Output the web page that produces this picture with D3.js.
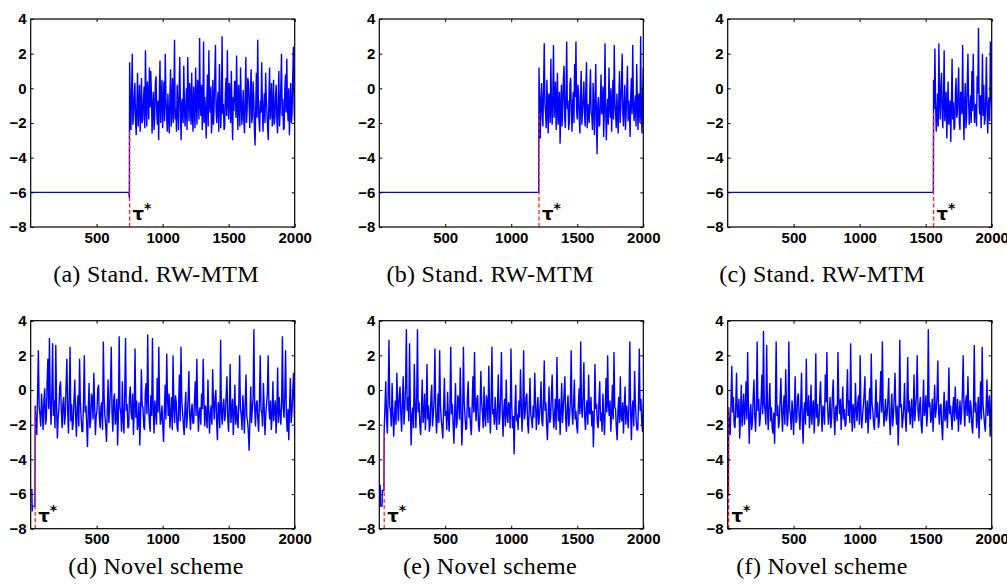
<!DOCTYPE html>
<html>
<head>
<meta charset="utf-8">
<script src="https://cdn.jsdelivr.net/npm/d3@7"></script>
<style>
  body { margin: 0; background: #fff; }
  svg { display: block; }
</style>
</head>
<body>
<script>
// ---- data ----
var captions = ["(a) Stand. RW-MTM", "(b) Stand. RW-MTM", "(c) Stand. RW-MTM",
                "(d) Novel scheme", "(e) Novel scheme", "(f) Novel scheme"];
var xTicks = [500, 1000, 1500, 2000];
var yTicks = [-8, -6, -4, -2, 0, 2, 4];

// iteration where the chain leaves the start region, and top of the red marker
var taus = [750, 1210, 1560, 35, 38, 8];
var tauTops = [-2.4, -1.45, -1.45, -0.9, -2.4, -1.0];
var steps = [5, 5, 5, 6, 6, 6];

// chain before tau: [iteration, value]
var preA = [[1, -6], [745, -6], [748, -6.35]];
var preB = [[1, -6], [1208, -6]];
var preC = [[1, -6], [1558, -6]];
var preD = [[1, -5.75], [10, -5.75], [12, -7.0], [14, -6.7], [30, -6.7], [33, -6.6]];
var preE = [[1, -5.5], [8, -5.5], [10, -6.7], [22, -6.7], [24, -5.8], [36, -5.8]];
var preF = [[1, -6], [6, -6]];

// chain from tau on, one value every `step` iterations
var valsA = [1.5, -0.8, -2.4, -0.2, 2.0, -2.1, -1.6, -0.5, 0.3, -1.9, -2.7, -1.0, 0.9, -2.2, -1.2, 0.2, -2.5, -1.4, 0.6, -2.0,
  -1.8, -0.6, 0.1, -2.3, 2.2, -0.9, -2.2, 0.4, -0.4, -1.8, 1.2, -1.1, 1.0, -0.3, -2.6, -1.2, -0.2, -2.4, -1.7, 0.3,
  0.7, -1.3, -2.1, -0.7, -3.0, -0.4, 1.6, -2.0, -0.8, 0.5, -2.3, -1.0, 0.4, -1.9, 2.0, -0.6, -1.5, -2.5, -0.3, -1.6,
  -2.6, -0.5, 1.1, -2.2, -1.0, 0.6, -2.0, -0.9, 2.8, -1.8, -1.2, -2.5, 0.2, -1.1, -2.4, 0.0, 1.8, -1.4, -3.0, -0.8,
  -0.6, -2.0, 1.3, -0.9, -2.2, -1.3, 0.0, -2.4, 1.8, -0.4, -1.9, 0.3, -0.7, -2.1, 0.9, -1.5, -2.5, 0.1, -1.1, -2.3,
  1.2, -0.7, -2.1, 0.5, -0.3, -1.8, 2.9, -0.9, -1.6, 0.2, -2.4, -1.2, 2.7, -2.0, -0.5, -1.4, -2.9, -0.6, 0.8, -2.2,
  2.2, -1.0, -1.4, 0.1, -2.6, -1.7, 0.5, -2.1, -1.0, 0.7, 2.5, -1.3, -2.0, -0.8, -0.2, -2.5, 1.4, -0.6, -2.3, -1.1,
  3.0, -1.5, -0.9, -2.4, -2.2, -0.3, 0.6, -1.6, 2.2, -0.7, -1.8, 0.3, -0.4, -2.0, 1.0, -1.2, -3.0, -0.5, -1.3, 0.4,
  0.4, -1.7, 1.9, -1.1, -2.4, 0.2, -0.8, -2.2, 1.2, -0.6, -2.1, -1.3, -0.1, -1.9, -2.6, -0.4, 1.8, -2.0, -1.2, 0.6,
  0.3, -1.0, -2.3, -0.2, 1.1, -2.0, -1.6, 0.4, -0.5, -2.4, -3.3, -1.1, 0.9, -1.7, 2.8, -0.8, -1.9, -2.5, -0.7, -1.4,
  1.5, -0.9, -2.5, -1.2, -0.3, -2.0, 0.9, -0.6, -1.4, -2.3, -3.0, -0.4, 1.2, -1.8, -1.0, 0.3, -2.2, -1.5, 0.5, -2.1,
  -1.7, -0.5, 0.2, -1.9, -2.6, -0.8, 1.0, -2.2, -1.3, 0.1, 2.0, -1.6, -0.6, -2.4, -2.3, -0.2, 0.8, -1.4, 1.7, -1.0,
  -1.9, 0.0, -2.7, -1.1, 0.3, -2.0, -1.4, 0.6, 2.4, -0.9, -2.2];
var valsB = [1.2, -1.0, -2.9, -0.6, 0.3, -1.6, -2.2, 0.1, 2.6, -0.9, -1.4, -2.3, 0.5, -1.2, -2.6, -0.3, -0.6, -2.0, 1.7, -1.1,
  -2.1, -0.4, 2.5, -1.7, -0.8, 0.4, -2.4, -1.0, 0.9, -2.1, -1.5, -0.2, -3.2, -1.3, 0.2, -2.2, -1.1, 0.6, 1.3, -1.8,
  -2.3, -0.1, 2.7, -1.2, -0.7, -2.4, -1.9, 0.3, 0.6, -1.4, -2.5, -0.8, -0.2, -2.0, 1.4, -0.5, 2.7, -1.3, -1.8, 0.2,
  -0.4, -1.7, -2.6, -0.3, 1.0, -2.1, -1.3, -0.6, 0.4, -1.5, -2.2, 0.0, 1.5, -2.3, -0.9, -1.6, -2.0, -0.2, 1.1, -1.4,
  -1.6, -2.4, 0.3, -1.0, -2.7, -0.4, 1.4, -1.9, -3.8, -1.1, -0.5, -2.2, -2.1, -0.7, 0.8, -1.5, -1.2, 0.1, -2.8, -1.3,
  2.6, -1.0, -3.0, -1.4, -0.6, -2.1, 1.2, -0.9, -1.7, 0.0, -2.5, -1.2, 0.5, -1.8, 2.5, -0.8, -1.4, -2.3, -0.3, -1.6,
  -2.6, -0.5, 1.0, -2.0, -1.0, 0.3, 2.0, -1.4, -2.2, -0.9, 0.2, -2.4, -1.5, -0.1, 1.3, -1.9, -0.7, -1.2, -2.8, -0.4,
  0.6, -1.5, 2.5, -0.7, -1.9, -1.1, -0.4, -2.2, 1.4, -0.8, -2.4, -0.3, -1.0, -2.0, 3.0, -1.3, -2.6, -0.5, 1.2];
var valsC = [0.5, -1.2, 2.3, -0.8, -2.5, -1.6, -0.3, -2.2, 2.6, -0.5, -1.8, 0.1, 0.9, -1.4, -2.3, -0.6, 2.2, -1.9, -1.0, -0.2,
  -2.9, -1.3, 0.4, -2.1, -1.6, -0.7, -3.1, -1.0, 1.7, -1.8, -0.8, -2.4, -2.2, -0.4, 0.6, -1.7, -1.4, -0.1, 1.2, -2.0,
  -2.4, -0.2, -0.6, -1.5, 2.5, -1.1, -3.0, -0.9, 0.3, -2.3, -1.7, 0.2, 2.0, -0.7, -2.1, -1.2, -0.4, -2.0, 1.0, -1.3,
  2.0, -0.6, -2.0, -1.1, -0.9, -2.2, 0.7, -0.3, 3.5, -1.0, -1.5, -0.4, -2.3, -0.8, 2.0, -1.6, 0.2, -2.1, -1.8, -0.5,
  1.8, -1.3, -2.6, -0.9, -0.5, -1.9, 2.7, -0.4, -1.2];
var valsD = [-0.9, -1.8, -2.6, -0.3, 2.3, -1.0, -1.4, -2.1, -0.2, -1.2, -2.3, -0.6, 0.1, -2.0, -1.7, 0.4, 1.8, -1.1, 3.0, -0.7,
  -2.0, -0.3, 2.7, -1.5, -0.6, -2.2, 2.6, -0.9, -2.8, -1.6, -1.0, 0.2, 0.5, -1.3, -2.2, -0.8, -0.4, -2.0, -1.5, 0.3,
  1.8, -1.2, -2.5, -0.4, 2.5, -1.8, -0.8, -2.3, -1.9, -0.5, 0.6, -1.4, -2.7, -1.0, -0.3, -2.1, 1.8, -0.7, -1.6, -2.4,
  -2.4, -0.6, 2.0, -1.3, -0.9, -2.0, -3.3, -1.1, 0.4, -2.2, -1.8, -0.2, -0.5, -1.7, 1.0, -0.8, -2.6, -1.5, -1.2, 0.1,
  0.3, -1.6, -2.2, -1.0, -0.7, -2.3, 2.8, -0.4, -1.5, -2.1, -3.0, -1.2, 0.6, -1.9, -1.1, 0.2, 2.5, -1.4, -2.4, -0.6,
  -0.2, -2.0, -1.6, -0.5, -3.2, -1.4, 3.1, -1.0, -1.3, -2.4, 0.5, -1.7, -2.5, -0.3, 3.0, -1.2, -0.8, -2.2, -2.1, -0.4,
  0.2, -1.3, -1.7, -0.2, -2.6, -1.1, 2.4, -1.6, -0.6, -2.3, -1.9, -0.7, -3.2, -1.5, 1.2, -0.9, -1.0, -2.1, -2.3, -0.1,
  0.4, -1.4, 3.2, -0.8, -1.8, -2.4, -0.3, -1.5, 3.0, -1.1, -2.5, -0.6, -1.2, -2.0, 0.7, -1.3, 2.5, -0.9, -2.0, -1.6,
  -0.9, -2.1, -3.0, -1.2, 0.3, -1.7, 2.1, -0.5, -1.5, -0.2, -2.2, -1.4, -0.4, -2.3, 2.0, -1.0, -1.9, -0.3, -0.7, -2.1,
  -2.4, -1.0, 0.9, -1.8, 2.5, -0.6, -1.3, -2.0, -2.6, -1.1, -0.1, -2.2, -1.6, -0.4, 1.1, -1.5, -2.3, -1.2, -0.8, -1.9,
  -1.9, -0.7, 0.5, -1.5, 1.8, -1.0, -2.4, -1.3, -1.0, -2.0, -0.2, -1.1, 1.8, -0.6, -2.1, -0.9, -1.4, -2.2, 0.6, -1.2,
  -2.5, -1.4, -0.9, -2.0, 1.2, -0.8, -1.7, -0.4, 0.0, -1.9, -2.9, -0.7, -1.1, -2.2, 2.9, -1.3, -2.0, -0.9, -0.5, -1.8,
  -1.5, -0.3, 0.8, -1.6, -2.4, -1.0, 1.5, -1.9, -1.2, -0.5, -2.6, -1.3, 0.3, -2.0, -0.9, -1.7, -2.2, -0.6, 2.0, -1.1,
  -1.4, -2.3, -0.3, -1.2, -2.5, -0.7, 0.9, -1.5, -1.8, -2.4, -3.5, -1.6, 0.2, -1.9, -1.1, -0.4, 3.5, -1.0, -2.1, -0.8,
  -0.6, -1.7, -2.4, -0.5, 2.0, -1.2, -1.3, -2.1, 0.4, -1.0, -2.6, -1.4, -0.8, -0.2, 2.0, -1.1, -1.7, -0.6, -2.3, -1.5,
  0.5, -1.8, -1.1, -0.6, -2.5, -1.2, 1.3, -1.9, -0.4, -1.3, -2.0, -0.7, 3.1, -1.0, -1.6, -0.3, 2.3, -1.5, -2.4, -1.1,
  -2.9, -1.0, 0.7, -1.9, -1.3, -0.2, 1.0, -1.4, -2.7];
var valsE = [-2.3, -1.0, 0.5, -1.6, -2.5, -0.4, 2.9, -0.9, -1.2, -2.1, 0.4, -1.3, -2.7, -1.5, -0.6, -2.0, 1.0, -0.8, -1.8, -0.3,
  0.2, -1.4, -2.4, -0.6, 0.8, -2.0, -1.1, 0.3, 3.5, -1.2, -0.4, -1.8, 2.7, -0.9, -3.2, -1.5, -1.0, -2.2, 1.5, -0.7,
  -2.2, -0.5, 3.5, -1.3, -0.7, -2.0, -2.6, -1.1, 0.6, -1.9, -1.5, -0.2, -2.3, -1.2, 1.5, -1.7, -0.9, -2.4, -2.0, -0.4,
  0.3, -2.1, -1.4, -0.6, 2.4, -1.1, -2.5, -1.6, -0.2, -1.9, 2.3, -0.8, -1.7, -2.2, -2.8, -1.0, 0.7, -1.5, -1.2, -2.3,
  -0.1, -1.6, -2.4, -0.9, 2.5, -1.4, -0.8, -2.0, -3.1, -1.3, 0.4, -2.2, -1.9, -0.3, -0.6, -1.7, 1.3, -1.1, -3.2, -1.8,
  2.5, -0.7, -1.5, -2.3, -2.2, -0.4, 0.5, -1.6, -1.0, -2.1, -2.6, -0.9, 0.8, -1.3, 2.2, -1.0, -1.8, -0.5, -0.3, -2.0,
  -2.4, -1.2, 1.1, -0.7, -1.3, -2.2, 0.2, -1.5, -2.1, -0.3, -0.8, -1.9, 1.4, -1.0, -2.5, -0.6, 2.5, -1.4, -1.1, -2.0,
  -0.4, -1.5, -2.3, -0.8, 0.9, -2.0, -1.6, -0.2, 2.2, -1.3, -2.7, -1.1, -0.5, -2.1, 0.6, -1.4, -1.9, -0.7, -1.0, -2.2,
  2.4, -0.9, -2.2, -1.5, -3.7, -1.2, 0.3, -1.8, -1.4, -2.3, -0.6, -1.6, 1.2, -0.8, -2.4, -1.0, 2.3, -1.7, -1.3, -0.4,
  -0.2, -1.9, -2.5, -1.1, 0.7, -1.4, -1.7, -2.2, -0.9, -1.6, 1.0, -0.6, -2.3, -1.3, -0.4, -2.0, -1.5, -0.8, 0.5, -1.8,
  -2.1, -0.6, 1.7, -1.2, -0.7, -2.0, -2.9, -1.4, 0.2, -1.9, -1.6, -0.3, 0.9, -1.1, -2.2, -1.5, -0.5, -2.3, 1.9, -0.9,
  -1.8, -0.5, -2.6, -1.3, 0.4, -1.9, -1.1, -0.2, 0.8, -1.6, -2.4, -1.0, -0.3, -2.1, -1.5, -0.6, 2.3, -1.2, -2.0, -0.8,
  0.6, -1.7, -1.2, -2.1, -2.5, -0.9, 0.1, -1.4, 2.8, -1.0, -1.6, -0.3, 1.6, -1.5, -2.3, -1.1, -0.6, -2.0, 0.9, -1.3,
  -1.4, -0.4, -2.1, -1.2, -3.3, -1.6, 1.5, -1.1, -0.8, -1.9, -2.2, -0.7, 0.5, -1.8, -1.3, -2.4, -0.2, -1.5, -2.6, -1.0,
  0.7, -1.3, 2.0, -0.9, -1.5, -0.6, -2.4, -1.4, 0.3, -1.7, 2.2, -1.0, -1.1, -2.2, -2.9, -1.2, -0.4, -1.9, 0.8, -1.6,
  -1.8, -0.7, -2.5, -1.1, 0.2, -2.0, -0.9, -1.4, -2.2, -0.5, 2.8, -1.3, -2.9, -1.0, -0.6, -2.1, 1.1, -0.8, -1.7, -2.3,
  -2.3, -0.6, 2.4, -1.2, -0.5, -1.8, -2.4, -0.9, 0.3];
var valsF = [-1.0, -1.9, -2.6, -0.7, 1.4, -1.3, -0.4, -2.0, -2.2, -0.9, 1.0, -1.6, -1.5, -0.5, -2.8, -1.4, 0.3, -2.1, -1.2, -0.2,
  -2.0, -1.1, 0.5, -1.7, 2.2, -0.9, -3.1, -1.4, -0.8, -2.3, -1.9, -0.4, 0.6, -1.5, -2.4, -1.0, 2.8, -1.2, -0.5, -2.1,
  -1.6, -0.6, 0.9, -1.4, 3.4, -0.8, -1.2, -2.0, 2.6, -1.1, -2.3, -0.7, 0.4, -1.8, -1.0, -2.2, -2.5, -1.3, -3.1, -0.9,
  2.8, -1.5, -0.9, -2.2, -1.8, -0.5, 0.7, -1.3, -2.4, -1.0, -0.3, -2.0, 1.2, -0.8, -2.1, -1.6, 2.8, -1.1, -1.4, -2.3,
  -0.6, -1.3, -2.6, -1.0, 0.8, -1.9, -1.7, -0.4, -0.2, -1.5, -2.3, -0.9, 1.0, -1.8, -3.1, -1.2, -0.7, -2.0, 1.8, -1.1,
  -1.5, -0.3, -2.2, -1.4, 0.3, -2.0, -1.0, -0.6, -2.5, -1.2, 2.1, -1.6, -0.8, -2.1, -1.9, -0.4, 0.5, -1.3, -2.4, -0.9,
  -1.2, -2.0, 0.9, -0.7, 2.2, -1.1, -2.0, -1.4, -0.4, -2.2, -1.6, -0.3, 0.6, -1.5, -2.6, -1.0, -0.9, -1.8, 2.2, -0.6,
  -1.4, -0.5, -2.3, -1.2, 0.2, -1.7, -1.1, -2.1, -2.0, -0.4, 1.2, -1.5, -0.6, -1.9, 2.7, -1.0, -2.4, -0.8, -1.3, -2.2,
  0.4, -1.1, -1.8, -0.7, -0.3, -2.0, 2.0, -1.3, -2.2, -1.5, -0.9, -0.2, 0.8, -1.9, -1.6, -0.6, -2.5, -1.2, 0.1, -1.7,
  2.1, -0.8, -1.2, -2.0, -2.3, -1.0, 0.6, -1.6, -0.7, -2.2, -1.9, -0.4, 1.1, -1.3, 2.8, -0.9, -2.1, -1.4, -0.5, -1.8,
  -1.4, -0.6, 0.7, -1.7, -2.6, -1.1, -0.2, -2.1, -1.5, -0.4, 1.0, -1.2, -2.0, -0.9, -3.2, -1.5, 2.9, -1.0, -0.8, -2.2,
  -1.7, -1.0, 0.4, -1.6, -2.4, -0.8, 1.9, -1.3, -0.6, -2.0, -1.3, -0.5, -2.2, -1.4, 0.9, -1.8, -1.0, -0.3, 2.0, -1.2,
  -1.8, -0.9, -0.4, -2.0, -2.5, -1.1, 0.6, -1.5, -1.2, -0.3, -2.1, -1.4, 3.5, -1.0, -0.7, -1.9, -1.6, -0.5, -2.4, -1.2,
  0.3, -1.6, -1.1, -0.4, 1.7, -1.3, -2.0, -0.9, -0.8, -2.1, -2.9, -1.2, -0.1, -1.8, -1.5, -0.6, -2.2, -1.0, 1.3, -1.4,
  -0.9, -1.6, -2.3, -1.0, -0.4, -1.8, 0.2, -1.2, -1.7, -0.5, -2.4, -1.4, -0.6, -2.0, -1.3, -0.2, 2.0, -1.1, -2.1, -0.7,
  -0.3, -1.5, 0.8, -1.2, -1.9, -0.6, -1.0, -2.1, -2.5, -0.9, 2.6, -1.3, -0.7, -2.2, -1.6, -0.4, -2.8, -1.1, 0.5, -1.7,
  2.5, -0.8, -1.4, -2.0, -2.4, -0.9, 0.6, -1.5, -1.1, -0.3, -2.7, -1.2, 0.5];

var pres = [preA, preB, preC, preD, preE, preF];
var vals = [valsA, valsB, valsC, valsD, valsE, valsF];

// ---- layout ----
var W = 1007, H = 588;
var pw = 264, ph = 208;
var lefts = [30.7, 379.3, 727.7];
var tops = [19, 320.7];
var capX = [156, 490, 822];
var capY = [282, 574];

var svg = d3.select("body").append("svg")
  .attr("width", W)
  .attr("height", H);

var x = d3.scaleLinear().domain([1, 2000]).range([0, pw]);
var y = d3.scaleLinear().domain([-8, 4]).range([ph, 0]);

var line = d3.line()
  .x(function(d) { return x(d[0]); })
  .y(function(d) { return y(d[1]); });

svg.append("defs").append("clipPath")
  .attr("id", "plotclip")
  .append("rect")
  .attr("width", pw)
  .attr("height", ph);

var fontStyle = function(sel) {
  sel.selectAll("text")
    .attr("font-family", "Liberation Sans, Arial, sans-serif")
    .attr("font-weight", "bold")
    .attr("font-size", 15)
    .attr("fill", "#000");
  sel.selectAll("line").attr("stroke", "#000");
  sel.select(".domain").remove();
};

for (var k = 0; k < 6; k++) {
  var col = k % 3, row = Math.floor(k / 3);
  var g = svg.append("g")
    .attr("transform", "translate(" + lefts[col] + "," + tops[row] + ")");

  var tau = taus[k], step = steps[k];
  var pts = pres[k].concat(vals[k].map(function(v, i) { return [tau + i * step, v]; }));

  var plot = g.append("g").attr("clip-path", "url(#plotclip)");
  plot.append("path")
    .datum(pts)
    .attr("d", line)
    .attr("fill", "none")
    .attr("stroke", "#0000ff")
    .attr("stroke-width", 1.4);

  plot.append("line")
    .attr("x1", x(tau)).attr("x2", x(tau))
    .attr("y1", y(-8)).attr("y2", y(tauTops[k]))
    .attr("stroke", "#ff2020")
    .attr("stroke-width", 1.3)
    .attr("stroke-dasharray", "4,2.5");

  // axes, ticks pointing inward on all four sides
  g.append("g")
    .attr("transform", "translate(0," + ph + ")")
    .call(d3.axisBottom(x).tickValues(xTicks).tickSize(-3).tickPadding(5).tickFormat(d3.format("d")))
    .call(fontStyle);
  g.append("g")
    .call(d3.axisTop(x).tickValues(xTicks).tickSize(-3).tickFormat(""))
    .call(fontStyle);
  g.append("g")
    .call(d3.axisLeft(y).tickValues(yTicks).tickSize(-3).tickPadding(4))
    .call(fontStyle);
  g.append("g")
    .attr("transform", "translate(" + pw + ",0)")
    .call(d3.axisRight(y).tickValues(yTicks).tickSize(-3).tickFormat(""))
    .call(fontStyle);

  g.append("rect")
    .attr("width", pw)
    .attr("height", ph)
    .attr("fill", "none")
    .attr("stroke", "#000")
    .attr("stroke-width", 1.2);

  // tau* marker label
  var lab = g.append("text")
    .attr("x", x(tau) + 3)
    .attr("y", y(-7.6))
    .attr("font-family", "DejaVu Sans, sans-serif")
    .attr("font-weight", "bold")
    .attr("font-size", 18)
    .attr("fill", "#000");
  lab.append("tspan").text("τ");
  lab.append("tspan")
    .attr("font-size", 14)
    .attr("dy", -7)
    .text("*");

  svg.append("text")
    .attr("x", capX[col])
    .attr("y", capY[row])
    .attr("text-anchor", "middle")
    .attr("font-family", "Liberation Serif, Times New Roman, serif")
    .attr("font-size", 24)
    .attr("letter-spacing", 0.3)
    .attr("fill", "#000")
    .text(captions[k]);
}
</script>
</body>
</html>
